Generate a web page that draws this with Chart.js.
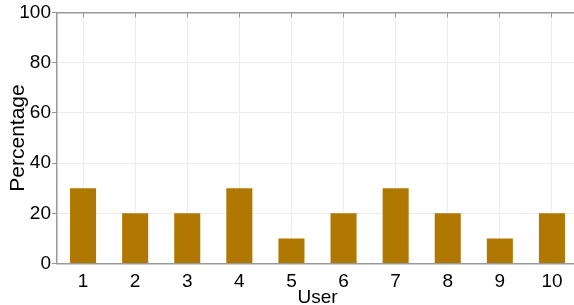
<!DOCTYPE html>
<html>
<head>
<meta charset="utf-8">
<script src="https://cdn.jsdelivr.net/npm/chart.js@4/dist/chart.umd.min.js"></script>
<style>
  html, body { margin: 0; padding: 0; background: #fff; overflow: hidden; }
  #wrap { width: 580px; height: 310px; }
</style>
</head>
<body>
<div id="wrap"><canvas id="chart"></canvas></div>
<script>
const users = ['1', '2', '3', '4', '5', '6', '7', '8', '9', '10'];
const percentages = [30, 20, 20, 30, 10, 20, 30, 20, 10, 20];
const yTicks = [0, 20, 40, 60, 80, 100];

const tickFont = { family: "'Liberation Sans', Arial, sans-serif", size: 19 };
const titleFont = { family: "'Liberation Sans', Arial, sans-serif", size: 21 };

new Chart(document.getElementById('chart'), {
    type: 'bar',
    data: {
        labels: users,
        datasets: [{
            label: 'Percentage',
            data: percentages,
            backgroundColor: '#b07800',
            borderWidth: 0,
            barPercentage: 0.5,
            categoryPercentage: 1
        }]
    },
    options: {
        responsive: true,
        maintainAspectRatio: false,
        animation: false,
        layout: { padding: { top: 0, left: 6, right: 2, bottom: 1 } },
        plugins: { legend: { display: false }, tooltip: { enabled: false } },
        scales: {
            x: {
                offset: true,
                grid: { color: '#ececec', drawTicks: false, offset: false },
                border: { color: '#999', width: 1.5 },
                ticks: { color: '#000', font: tickFont, padding: 7 },
                title: { display: true, text: 'User', color: '#000', font: { ...titleFont, size: 19 }, padding: 0 },
                afterFit: (s) => { s.height = 45.5; }
            },
            x2: {
                position: 'top',
                type: 'category',
                labels: users,
                offset: true,
                grid: { drawOnChartArea: false, drawTicks: true, tickLength: -5, color: '#999', offset: false },
                border: { color: '#999', width: 1.5 },
                ticks: { display: false },
                afterFit: (s) => { s.height = 12.5; }
            },
            y: {
                min: 0,
                max: 100,
                afterBuildTicks: (axis) => { axis.ticks = yTicks.map(v => ({ value: v })); },
                grid: { color: '#ececec', tickLength: 5, tickColor: '#999' },
                border: { color: '#999', width: 1.5 },
                ticks: { color: '#000', font: tickFont, padding: 1 },
                title: { display: true, text: 'Percentage', color: '#000', font: titleFont, padding: 0 },
                afterFit: (s) => { s.width = 51; }
            }
        }
    }
});
</script>
</body>
</html>
